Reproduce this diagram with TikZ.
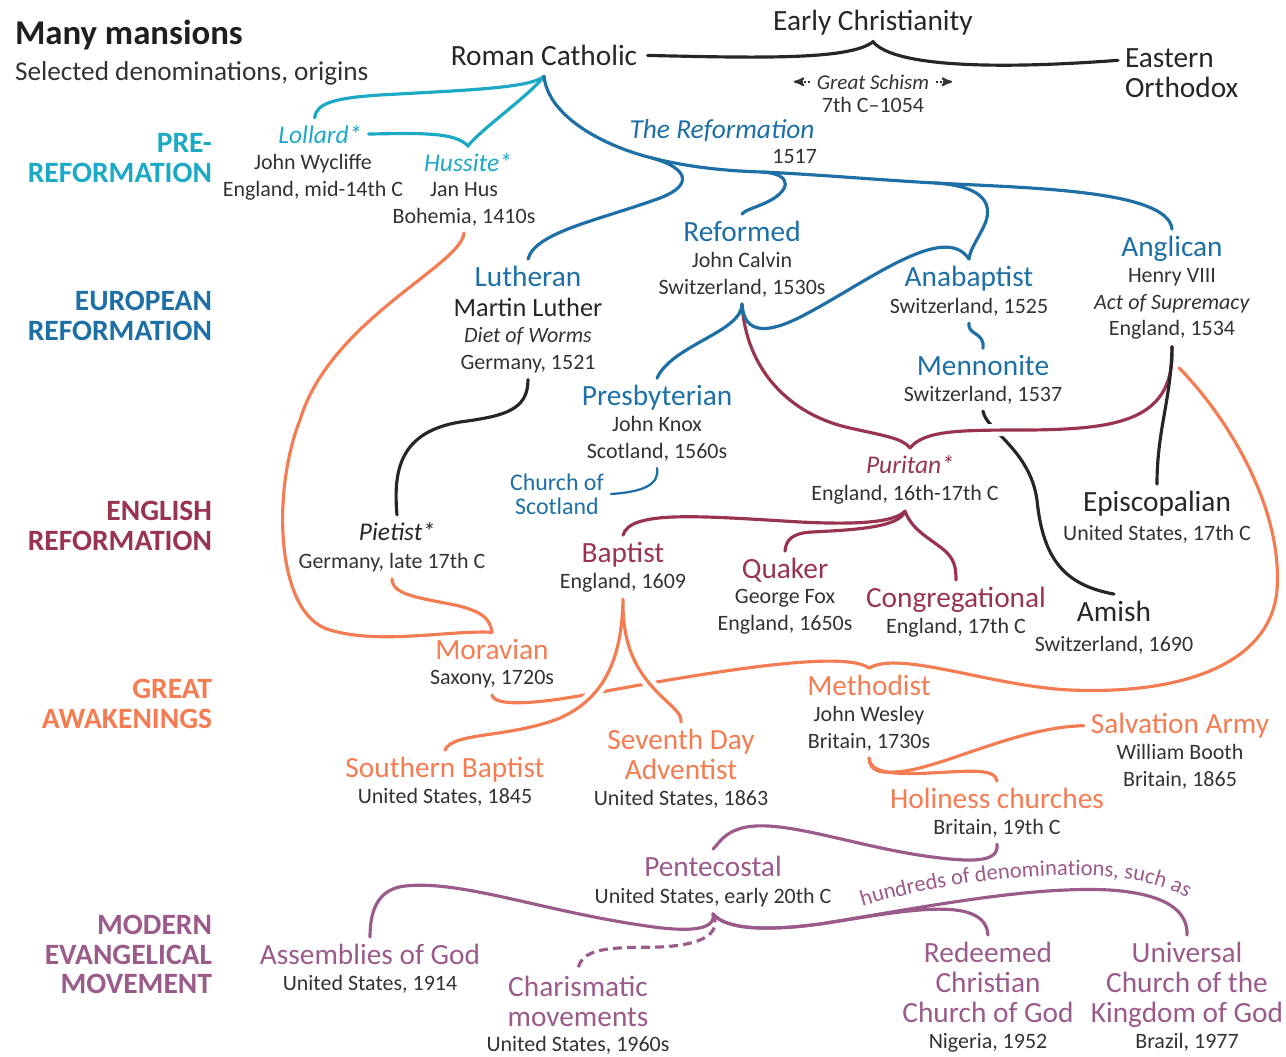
\documentclass[tikz,border=0pt]{standalone}
\usepackage{fontspec}
\setmainfont{Carlito}
\usetikzlibrary{arrows,decorations.text}
\definecolor{ink}{RGB}{50,50,50}
\definecolor{cpre}{RGB}{27,169,198}
\definecolor{ceur}{RGB}{29,111,166}
\definecolor{ceng}{RGB}{152,51,80}
\definecolor{cawk}{RGB}{244,124,82}
\definecolor{cmod}{RGB}{154,90,138}

\begin{document}
\begin{tikzpicture}[
  x=0.02cm, y=-0.02cm, >=stealth',
  every node/.style={inner sep=0pt, outer sep=0pt},
  den/.style={font=\fontsize{16.7}{17}\selectfont, text=#1, anchor=base, align=center, outer sep=4pt},
  starden/.style={font=\itshape\fontsize{14.5}{17}\selectfont, text=#1, anchor=base, outer sep=4pt},
  info/.style={font=\fontsize{12.5}{15.3}\selectfont, text=ink, anchor=north, align=center, outer sep=4pt},
  era/.style={font=\bfseries\fontsize{16.8}{16.8}\selectfont, text=#1, anchor=north east, align=right},
  link/.style={line width=1.8pt, line cap=round},
  over/.style={preaction={draw=white, line width=7pt}}
]
\useasboundingbox (0,0) rectangle (1286,1056);

\node[anchor=base west, text=black!88, font=\bfseries\fontsize{19.8}{20}\selectfont] (ttl) at (15,44) {Many mansions};
\node[anchor=base west, text=ink, font=\fontsize{15.5}{16}\selectfont] (sub) at (15,80) {Selected denominations, origins};

\node[era=cpre] (epre) at (212,133.5) {PRE-\\REFORMATION};
\node[era=ceur] (eeur) at (212,291.5) {EUROPEAN\\REFORMATION};
\node[era=ceng] (eeng) at (212,501.5) {ENGLISH\\REFORMATION};
\node[era=cawk] (eawk) at (212,679.5) {GREAT\\AWAKENINGS};
\node[era=cmod] (emod) at (212,915.5) {MODERN\\EVANGELICAL\\MOVEMENT};

\node[den=black!85] (chr) at (873,30) {Early Christianity};
\node[den=black!85, outer sep=6pt] (rc) at (544,65.5) {Roman Catholic};
\node[den=black!85, anchor=north west, align=left] (eo) at (1118,42) {Eastern\\Orthodox};
\node[anchor=base, text=ink, outer sep=4pt, font=\itshape\fontsize{12}{14}\selectfont] (gs) at (873,89) {Great Schism};
\node[info] (gsi) at (873,90) {7th C--1054};

\node[starden=cpre] (loll) at (320,143) {Lollard*};
\node[info] (lolli) at (313,147) {John Wycliffe\\England, mid-14th C};
\node[starden=cpre] (huss) at (468,171) {Hussite*};
\node[info] (hussi) at (464,175) {Jan Hus\\Bohemia, 1410s};

\node[den=ceur, font=\itshape\fontsize{15.6}{17}\selectfont] (refm) at (722,138) {The Reformation};
\node[info, anchor=north east] (refy) at (824,142) {1517};

\node[den=ceur] (luth) at (528,286.5) {Lutheran};
\node[den=black!85, font=\fontsize{15}{17}\selectfont] (luthp) at (528,316.5) {Martin Luther};
\node[info] (luthi) at (528,320) {\textit{Diet of Worms}\\Germany, 1521};
\node[den=ceur] (refd) at (742,241.5) {Reformed};
\node[info] (refdi) at (742,245) {John Calvin\\Switzerland, 1530s};
\node[den=ceur] (anab) at (969,286.5) {Anabaptist};
\node[info] (anabi) at (969,291) {Switzerland, 1525};
\node[den=ceur] (angl) at (1172,256.5) {Anglican};
\node[info] (angli) at (1172,261) {Henry VIII\\\textit{Act of Supremacy}\\England, 1534};
\node[den=ceur] (menn) at (983,375.5) {Mennonite};
\node[info] (menni) at (983,379) {Switzerland, 1537};
\node[den=ceur] (pres) at (657,405.5) {Presbyterian};
\node[info] (presi) at (657,409) {John Knox\\Scotland, 1560s};
\node[den=ceur, anchor=center, font=\fontsize{13.6}{13.6}\selectfont] (cos) at (557,494) {Church of\\Scotland};

\node[starden=ceng] (puri) at (910,473) {Puritan*};
\node[info] (purii) at (905,478) {England, 16th-17th C};
\node[den=ceng] (bapt) at (623,562.5) {Baptist};
\node[info] (bapti) at (623,566) {England, 1609};
\node[den=ceng] (quak) at (785,578.5) {Quaker};
\node[info] (quaki) at (785,582) {George Fox\\England, 1650s};
\node[den=ceng] (cong) at (956,607.5) {Congregational};
\node[info] (congi) at (956,611) {England, 17th C};
\node[den=black!85] (epis) at (1157,511.5) {Episcopalian};
\node[info] (episi) at (1157,518) {United States, 17th C};
\node[den=black!85] (amish) at (1114,621.5) {Amish};
\node[info] (amishi) at (1114,629) {Switzerland, 1690};
\node[starden=black!85] (piet) at (397,540) {Pietist*};
\node[info] (pieti) at (392,546) {Germany, late 17th C};

\node[den=cawk] (mora) at (492,659.5) {Moravian};
\node[info] (morai) at (492,663) {Saxony, 1720s};
\node[den=cawk] (meth) at (869,695.5) {Methodist};
\node[info] (methi) at (869,699) {John Wesley\\Britain, 1730s};
\node[den=cawk] (sbap) at (445,777.5) {Southern Baptist};
\node[info] (sbapi) at (445,781) {United States, 1845};
\node[den=cawk, anchor=north] (sda) at (681,722) {Seventh Day\\Adventist};
\node[info] (sdai) at (681,783) {United States, 1863};
\node[den=cawk] (salv) at (1180,733.5) {Salvation Army};
\node[info] (salvi) at (1180,737) {William Booth\\Britain, 1865};
\node[den=cawk] (holi) at (997,808.5) {Holiness churches};
\node[info] (holii) at (997,812) {Britain, 19th C};

\node[den=cmod] (pent) at (713,876.5) {Pentecostal};
\node[info] (penti) at (713,881) {United States, early 20th C};
\node[den=cmod] (assem) at (370,964.5) {Assemblies of God};
\node[info] (assemi) at (370,968) {United States, 1914};
\node[den=cmod, anchor=north] (char) at (578,969) {Charismatic\\movements};
\node[info] (chari) at (578,1029) {United States, 1960s};
\node[den=cmod, anchor=north] (rccg) at (988,935) {Redeemed\\Christian\\Church of God};
\node[info] (rccgi) at (988,1026) {Nigeria, 1952};
\node[den=cmod, anchor=north] (ucg) at (1187,935) {Universal\\Church of the\\Kingdom of God};
\node[info] (ucgi) at (1187,1026) {Brazil, 1977};

\draw[link, black!85] (rc.east) .. controls (760,58) and (850,60) .. (chr.south) .. controls (893,66) and (990,70) .. ([yshift=7.5pt]eo.west);
\draw[densely dotted, line width=1.1pt, ink, ->] (gs.west) -- ++(-16,0);
\draw[densely dotted, line width=1.1pt, ink, ->] (gs.east) -- ++(16,0);

\draw[link, cpre] (rc.south) .. controls (530,88) and (470,90) .. (380,95) .. controls (335,98) and (316,103) .. ([xshift=-3pt]loll.north);
\draw[link, cpre] (loll.east) .. controls (420,133) and (455,132) .. (huss.north) .. controls (480,130) and (530,95) .. (rc.south);

\coordinate (j1) at (652,158);
\coordinate (j2) at (762,172);
\coordinate (j3) at (935,183);
\draw[link, ceur] (rc.south) .. controls (548,115) and (600,145) .. (j1) .. controls (692,168) and (730,171) .. (j2) .. controls (810,174) and (880,180) .. (j3) .. controls (1030,188) and (1168,190) .. (angl.north);
\draw[link, ceur] (j1) .. controls (688,168) and (694,185) .. (660,198) .. controls (600,220) and (535,232) .. (luth.north);
\draw[link, ceur] (j2) .. controls (795,174) and (790,192) .. (765,203) .. controls (752,209) and (745,210) .. (refd.north);
\draw[link, ceur] (j3) .. controls (985,186) and (995,205) .. (983,228) .. controls (976,242) and (970,250) .. (anab.north);

\draw[link, black!85] (menni.south) .. controls (986,430) and (1030,450) .. (1037,500) .. controls (1043,560) and (1065,585) .. (amish.north);
\draw[link, ceng, over] (puri.north) .. controls (925,430) and (960,430) .. (1030,430) .. controls (1120,429) and (1175,420) .. (angli.south);
\draw[link, ceng] (refdi.south) .. controls (746,370) and (790,415) .. (850,428) .. controls (885,436) and (902,438) .. (puri.north);
\draw[link, black!85] (angli.south) .. controls (1171,400) and (1157,430) .. (epis.north);

\draw[link, ceur] (refdi.south) .. controls (744,335) and (768,335) .. (808,313) .. controls (870,280) and (945,222) .. (anab.north);
\draw[link, ceur] (refdi.south) .. controls (742,332) and (672,345) .. (pres.north);
\draw[link, ceur] (anabi.south) .. controls (967,335) and (985,332) .. (menn.north);
\draw[link, ceur, line width=1.3pt] (presi.south) .. controls (660,485) and (642,492) .. (cos.east);
\draw[link, black!85] (luthi.south) .. controls (528,410) and (505,416) .. (460,422) .. controls (400,432) and (393,470) .. (piet.north);

\draw[link, ceng] (purii.south) .. controls (895,522) and (860,525) .. (800,522) .. controls (700,516) and (630,510) .. (bapt.north);
\draw[link, ceng] (purii.south) .. controls (900,528) and (850,530) .. (812,532) .. controls (792,533) and (786,540) .. (quak.north);
\draw[link, ceng] (purii.south) .. controls (912,530) and (928,537) .. (944,550) .. controls (954,559) and (956,566) .. (cong.north);

\draw[link, cawk] (hussi.south) .. controls (462,265) and (330,320) .. (300,420) .. controls (272,490) and (275,615) .. (330,630) .. controls (380,645) and (450,630) .. (mora.north);
\draw[link, cawk] (pieti.south) .. controls (392,595) and (420,598) .. (455,605) .. controls (485,612) and (490,620) .. (mora.north);
\draw[link, cawk] (morai.south) .. controls (494,706) and (530,705) .. (590,694) .. controls (720,670) and (845,650) .. (meth.north);
\draw[link, cawk] ([xshift=4pt,yshift=-12pt]angli.south) .. controls (1230,420) and (1283,510) .. (1277,590) .. controls (1271,660) and (1190,695) .. (1070,690) .. controls (990,686) and (900,650) .. (meth.north);
\draw[link, cawk, over] (bapti.south) .. controls (622,665) and (600,700) .. (560,718) .. controls (510,738) and (452,732) .. (sbap.north)
  (bapti.south) .. controls (622,650) and (640,675) .. (660,695) .. controls (678,712) and (681,714) .. (sda.north);
\draw[link, cawk] (methi.south) .. controls (870,772) and (880,774) .. (905,771) .. controls (950,764) and (1020,727) .. (salv.west);
\draw[link, cawk] (methi.south) .. controls (870,772) and (890,775) .. (930,773) .. controls (970,771) and (995,768) .. (holi.north);

\draw[link, cmod] (holii.south) .. controls (999,862) and (975,863) .. (925,856) .. controls (850,845) and (780,818) .. (742,828) .. controls (724,833) and (720,842) .. (pent.north);
\draw[link, cmod] (penti.south) .. controls (716,930) and (690,933) .. (640,925) .. controls (540,910) and (460,880) .. (405,886) .. controls (378,889) and (370,910) .. (assem.north);
\draw[link, cmod] (penti.south) .. controls (724,928) and (760,932) .. (820,924) .. controls (900,912) and (985,893) .. (rccg.north);
\draw[link, cmod] (penti.south) .. controls (724,928) and (760,932) .. (820,924) .. controls (930,906) and (1030,886) .. (1110,890) .. controls (1168,894) and (1188,912) .. (ucg.north);
\draw[link, cmod, line cap=butt, dash pattern=on 5pt off 3pt] (penti.south) .. controls (722,935) and (700,945) .. (660,947) .. controls (620,948) and (582,945) .. (char.north);
\path[decorate, decoration={text along path, text color=cmod, text align=center,
  text={|\fontsize{12.8}{13}\selectfont|hundreds of denominations, such as}}]
  (863,906) .. controls (980,872) and (1130,862) .. (1186,898);
\end{tikzpicture}
\end{document}
